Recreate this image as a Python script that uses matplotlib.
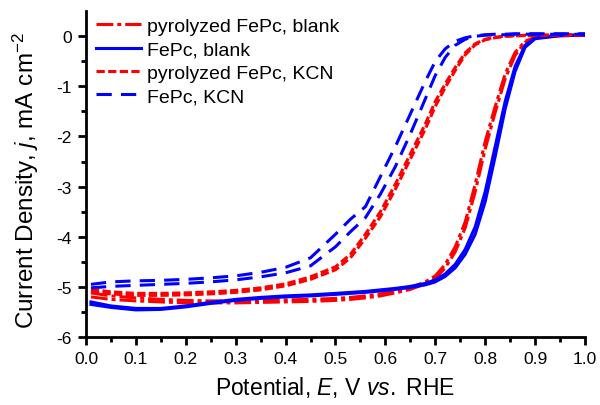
"""LSV curves of FePc / pyrolyzed FePc with and without KCN."""
import matplotlib
matplotlib.use("Agg")
import matplotlib.pyplot as plt

plt.rcParams["font.family"] = ["Liberation Sans", "DejaVu Sans"]
plt.rcParams["mathtext.fontset"] = "custom"
plt.rcParams["mathtext.rm"] = "Liberation Sans"
plt.rcParams["mathtext.it"] = "Liberation Sans:italic"
plt.rcParams["axes.unicode_minus"] = False

# potential grid (V vs. RHE)
E = [0.01, 0.05, 0.10, 0.15, 0.20, 0.25, 0.30, 0.35, 0.40, 0.45, 0.50, 0.53, 0.56, 0.59,
     0.62, 0.65, 0.68, 0.70, 0.72, 0.74, 0.76, 0.78, 0.80, 0.82, 0.84, 0.86, 0.88, 0.90,
     0.95, 1.00]

# current density (mA cm-2), two scan branches per sample
pyro_blank_a = [-5.12, -5.18, -5.22, -5.25, -5.27, -5.28, -5.28, -5.27, -5.26, -5.25, -5.23,
                -5.21, -5.18, -5.14, -5.09, -5.02, -4.90, -4.78, -4.55, -4.20, -3.70, -2.95,
                -2.10, -1.40, -0.75, -0.32, -0.10, -0.02, 0.02, 0.03]
pyro_blank_b = [-5.20, -5.25, -5.28, -5.30, -5.32, -5.32, -5.32, -5.31, -5.30, -5.29, -5.27,
                -5.25, -5.22, -5.18, -5.12, -5.05, -4.94, -4.83, -4.62, -4.30, -3.82, -3.10,
                -2.25, -1.52, -0.85, -0.38, -0.12, -0.03, 0.01, 0.02]
fepc_blank_a = [-5.30, -5.38, -5.43, -5.43, -5.38, -5.31, -5.25, -5.21, -5.18, -5.16, -5.13,
                -5.11, -5.09, -5.06, -5.03, -4.99, -4.93, -4.86, -4.74, -4.55, -4.25, -3.80,
                -3.10, -2.20, -1.30, -0.60, -0.18, -0.03, 0.02, 0.03]
fepc_blank_b = [-5.35, -5.41, -5.46, -5.45, -5.40, -5.33, -5.27, -5.23, -5.20, -5.18, -5.15,
                -5.13, -5.11, -5.08, -5.05, -5.01, -4.96, -4.90, -4.79, -4.62, -4.35, -3.95,
                -3.30, -2.40, -1.45, -0.70, -0.22, -0.05, 0.01, 0.02]
pyro_kcn_a = [-5.05, -5.10, -5.13, -5.13, -5.12, -5.10, -5.07, -5.02, -4.94, -4.80, -4.60,
              -4.35, -3.95, -3.50, -2.95, -2.35, -1.75, -1.30, -0.95, -0.62, -0.33, -0.15,
              -0.06, -0.02, 0.00, 0.01, 0.02, 0.02, 0.03, 0.03]
pyro_kcn_b = [-5.10, -5.14, -5.17, -5.17, -5.16, -5.14, -5.11, -5.06, -4.98, -4.85, -4.66,
              -4.42, -4.03, -3.60, -3.05, -2.45, -1.85, -1.40, -1.02, -0.68, -0.37, -0.17,
              -0.07, -0.03, 0.00, 0.01, 0.01, 0.02, 0.02, 0.02]
fepc_kcn_a = [-4.95, -4.90, -4.88, -4.87, -4.85, -4.82, -4.78, -4.71, -4.61, -4.42, -3.95,
              -3.65, -3.40, -2.80, -2.20, -1.55, -0.90, -0.50, -0.25, -0.10, -0.03, 0.01,
              0.03, 0.04, 0.04, 0.05, 0.05, 0.05, 0.05, 0.05]
fepc_kcn_b = [-5.02, -4.99, -4.97, -4.95, -4.93, -4.90, -4.86, -4.80, -4.72, -4.58, -4.20,
              -3.90, -3.62, -3.15, -2.60, -1.95, -1.25, -0.78, -0.42, -0.18, -0.06, 0.00,
              0.02, 0.03, 0.03, 0.04, 0.04, 0.04, 0.04, 0.04]

RED, BLUE = "#ff0000", "#0000ff"
LW = 2.2

fig = plt.figure(figsize=(6.0, 4.06), dpi=100)
ax = fig.add_axes([0.1433, 0.1675, 0.8317, 0.8025])

series = [
    ("pyrolyzed FePc, blank", pyro_blank_a, pyro_blank_b, RED, (5.5, 1.3, 1.3, 1.3)),
    ("FePc, blank", fepc_blank_a, fepc_blank_b, BLUE, None),
    ("pyrolyzed FePc, KCN", pyro_kcn_a, pyro_kcn_b, RED, (2.7, 1.1)),
    ("FePc, KCN", fepc_kcn_a, fepc_kcn_b, BLUE, (5, 3)),
]
for label, ja, jb, col, dash in series:
    kw = dict(color=col, lw=LW)
    if dash is not None:
        kw["dashes"] = dash
    ax.plot(E, ja, label=label, **kw)
    ax.plot(E, jb, **kw)

ax.set_xlim(0, 1.0)
ax.set_ylim(-6, 0.5)
ax.set_xticks([i / 10 for i in range(11)])
ax.set_xticks([i / 20 for i in range(21)], minor=True)
ax.set_yticks(range(-6, 1))
ax.set_yticks([i / 2 for i in range(-12, 1)], minor=True)
ax.xaxis.set_major_formatter(matplotlib.ticker.FormatStrFormatter("%.1f"))

for side in ("top", "right"):
    ax.spines[side].set_visible(False)
for side in ("left", "bottom"):
    ax.spines[side].set_linewidth(2.0)
ax.tick_params(which="major", length=6, width=2.0, labelsize=12.5, direction="out", pad=4)
ax.tick_params(which="minor", length=3.5, width=2.0, direction="out")

ax.set_xlabel(r"Potential, $\mathit{E}$, V $\mathit{vs.}$ RHE", fontsize=16.5, labelpad=6)
ax.set_ylabel(r"Current Density, $\mathit{j}$, mA cm$^{-2}$", fontsize=17.5)
ax.yaxis.set_label_coords(-0.09, 0.482)

ax.legend(loc="upper left", frameon=False, fontsize=14, handlelength=2.3,
          handletextpad=0.3, labelspacing=0.3, borderaxespad=0.0,
          bbox_to_anchor=(0.005, 1.005))

fig.savefig("out.png", dpi=100)
